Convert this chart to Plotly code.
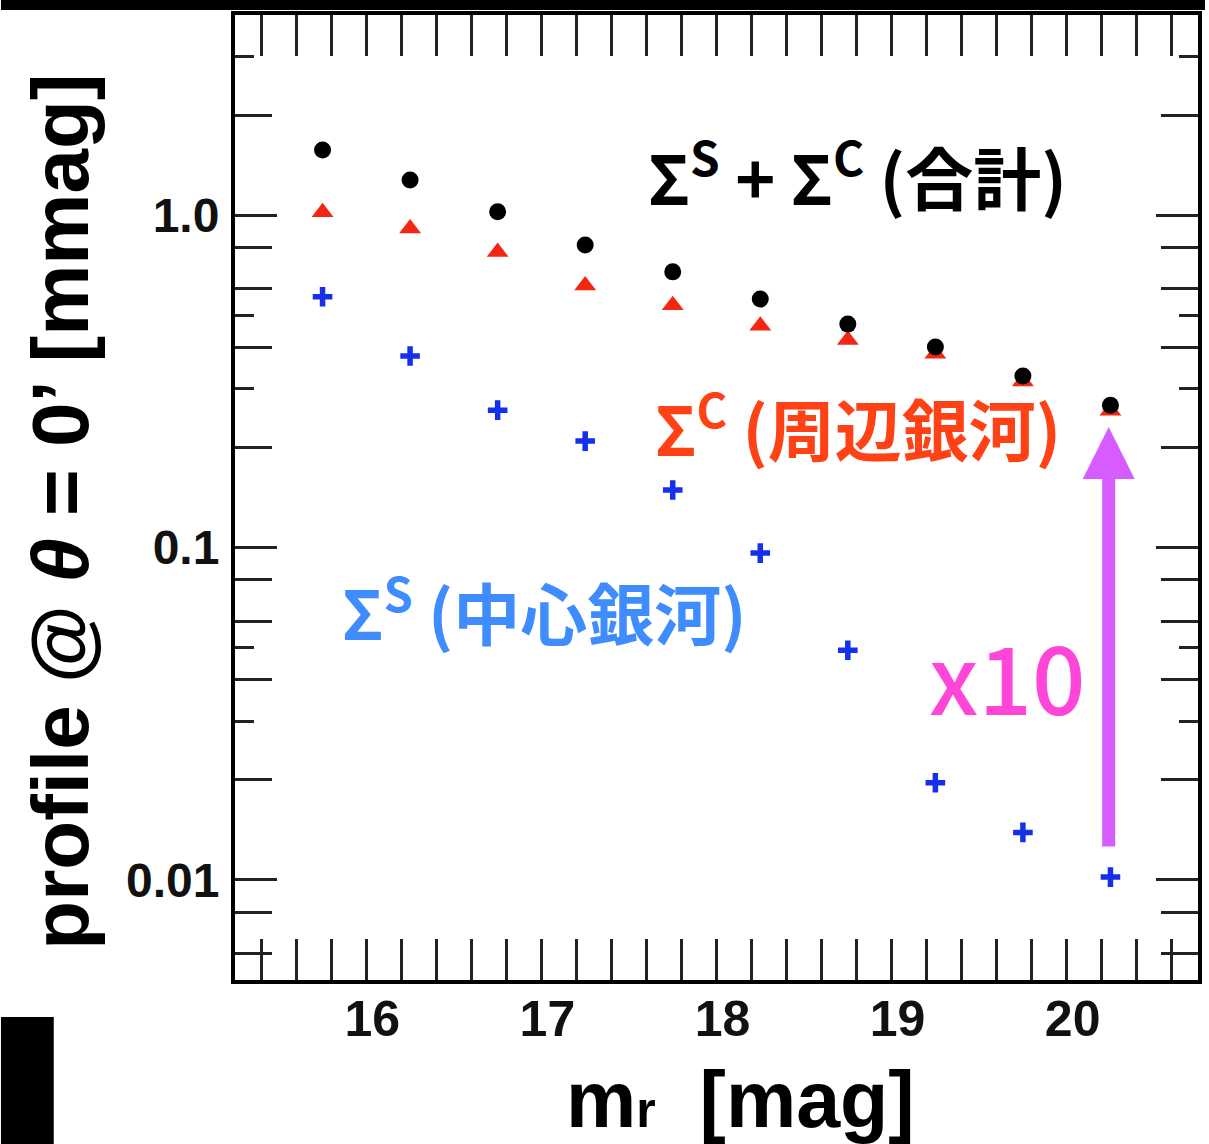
import math
import numpy as np
import plotly.graph_objects as go

# ---------------- data ----------------
mag_r = [15.75, 16.25, 16.75, 17.25, 17.75, 18.25, 18.75, 19.25, 19.75, 20.25]
sigma_s = [0.568, 0.377, 0.259, 0.209, 0.149, 0.0962, 0.0491, 0.0196, 0.0139, 0.0102]
sigma_c = [1.02, 0.911, 0.774, 0.614, 0.536, 0.465, 0.421, 0.383, 0.316, 0.258]
sigma_total = [1.57, 1.275, 1.024, 0.813, 0.675, 0.559, 0.470, 0.401, 0.328, 0.268]

x_tick_vals = [16, 17, 18, 19, 20]
x_tick_text = ["16", "17", "18", "19", "20"]
y_tick_vals = [0.01, 0.1, 1.0]
y_tick_text = ["0.01", "0.1", "1.0"]
y_minor_long = [0.006, 0.008, 0.02, 0.04, 0.06, 0.08, 0.2, 0.4, 0.6, 0.8, 2]
y_minor_short = [0.03, 0.05, 0.3, 0.5, 3]
x_range = [15.25, 20.75]
y_range = [0.005, 4.0]

arrow_x = 20.24
arrow_from = 0.01247
arrow_to = 0.2305

label_total = "Σ<sup>S</sup> + Σ<sup>C</sup> (合計)"
label_c = "Σ<sup>C</sup> (周辺銀河)"
label_s = "Σ<sup>S</sup> (中心銀河)"
label_factor = "x10"
x_title = "m<span style=\"font-size:50px\">r</span>\u00a0\u00a0[mag]"
y_title = "profile @ <i>θ</i> = 0’ [mmag]"

x_minor = [round(v, 1) for v in np.arange(15.4, 20.75, 0.2) if abs(v - round(v)) > 1e-6]

# ---------------- layout geometry ----------------
W, H = 1209, 1144
L, R, T, B = 235, 7, 15, 164
PW, PH = W - L - R, H - T - B


def px(xp):
    return (xp - L) / PW


def py(yp):
    return (H - B - yp) / PH


HELV = "Liberation Sans, Arial, Helvetica, sans-serif"
CJK = "Noto Sans CJK JP, Noto Sans, sans-serif"
TICKC = "#222222"

fig = go.Figure()
fig.add_trace(go.Scatter(
    x=mag_r, y=sigma_s, mode="markers", name="ΣS", yaxis="y2",
    marker=dict(symbol="cross-thin", size=14, color="#1530e8",
                line=dict(color="#1530e8", width=5.5)),
))
fig.add_trace(go.Scatter(
    x=mag_r, y=sigma_c, mode="markers", name="ΣC",
    marker=dict(symbol="triangle-up", size=19, color="#f22613", line=dict(width=0)),
))
fig.add_trace(go.Scatter(
    x=mag_r, y=sigma_total, mode="markers", name="ΣS+ΣC",
    marker=dict(symbol="circle", size=17, color="black", line=dict(width=0)),
))

ylog = [math.log10(y_range[0]), math.log10(y_range[1])]

fig.update_layout(
    width=W, height=H,
    margin=dict(l=L, r=R, t=T, b=B, pad=0),
    paper_bgcolor="white", plot_bgcolor="white",
    showlegend=False,
    xaxis=dict(
        range=x_range, tickmode="array", tickvals=x_tick_vals, ticktext=x_tick_text,
        ticks="inside", ticklen=41, tickwidth=3, tickcolor=TICKC,
        showline=True, linewidth=4, linecolor="black", mirror="allticks",
        showgrid=False, zeroline=False,
        tickfont=dict(family=HELV, size=50, color="#111111", weight="bold"),
        ticklabelstandoff=-8, ticklabelshift=6,
        minor=dict(tickmode="array", tickvals=x_minor, ticks="inside", ticklen=36,
                   tickwidth=3, tickcolor=TICKC, showgrid=False),
    ),
    yaxis=dict(
        type="log", range=ylog, tickmode="array", tickvals=y_tick_vals, ticktext=y_tick_text,
        ticks="inside", ticklen=42, tickwidth=3, tickcolor=TICKC,
        showline=True, linewidth=4, linecolor="black", mirror="allticks",
        showgrid=False, zeroline=False,
        tickfont=dict(family=HELV, size=48, color="#111111", weight="bold"),
        ticklabelstandoff=2,
        minor=dict(tickmode="array", tickvals=y_minor_long, ticks="inside", ticklen=37,
                   tickwidth=3, tickcolor=TICKC, showgrid=False),
    ),
    yaxis2=dict(
        type="log", range=ylog, overlaying="y", anchor="x", side="left",
        tickmode="array", tickvals=y_minor_short, ticks="inside", ticklen=19,
        tickwidth=3, tickcolor=TICKC, showticklabels=False, showline=False,
        mirror="allticks", showgrid=False, zeroline=False,
    ),
)

annotations = [
    dict(text=label_total, x=px(648), y=py(173), xref="paper", yref="paper",
         xanchor="left", yanchor="middle", showarrow=False,
         font=dict(family=CJK, size=68, color="black", weight="bold")),
    dict(text=label_c, x=px(655), y=py(425), xref="paper", yref="paper",
         xanchor="left", yanchor="middle", showarrow=False,
         font=dict(family=CJK, size=67, color="#ff4116", weight="bold")),
    dict(text=label_s, x=px(340), y=py(609), xref="paper", yref="paper",
         xanchor="left", yanchor="middle", showarrow=False,
         font=dict(family=CJK, size=67, color="#3f8cff", weight="bold")),
    dict(text=label_factor, x=px(1011), y=py(674), xref="paper", yref="paper",
         xanchor="center", yanchor="middle", showarrow=False,
         font=dict(family=CJK, size=94, color="#ff46d9", weight=500)),
    dict(text="", x=arrow_x, y=math.log10(arrow_to), ax=arrow_x, ay=math.log10(arrow_from),
         xref="x", yref="y", axref="x", ayref="y", showarrow=True,
         arrowhead=2, arrowwidth=13, arrowsize=0.8, arrowcolor="#d65cff",
         font=dict(size=1)),
    dict(text=y_title, x=px(60), y=py(512), xref="paper", yref="paper",
         xanchor="center", yanchor="middle", textangle=-90, showarrow=False,
         font=dict(family=HELV, size=80, color="black", weight="bold")),
    dict(text=x_title, x=px(743), y=py(1099), xref="paper", yref="paper",
         xanchor="center", yanchor="middle", showarrow=False,
         font=dict(family=HELV, size=79, color="black", weight="bold")),
]
fig.update_layout(annotations=annotations)

fig.update_layout(shapes=[
    dict(type="rect", xref="paper", yref="paper", x0=px(0), x1=px(W), y0=py(10), y1=py(0),
         fillcolor="black", line=dict(width=0), layer="above"),
    dict(type="rect", xref="paper", yref="paper", x0=px(0), x1=px(53), y0=py(H), y1=py(1017),
         fillcolor="black", line=dict(width=0), layer="above"),
])

fig.write_html("out.html")
